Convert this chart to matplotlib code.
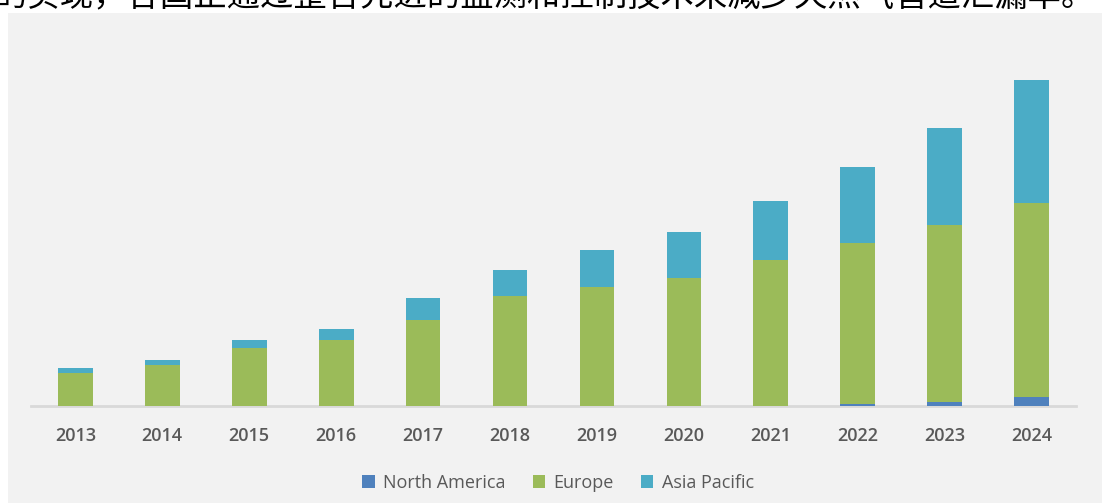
import numpy as np
import matplotlib.pyplot as plt
from matplotlib.patches import Rectangle, Patch

# Market size by region, stacked per year
years = ["2013", "2014", "2015", "2016", "2017", "2018",
         "2019", "2020", "2021", "2022", "2023", "2024"]
north_america = [0, 0, 0, 0, 0, 0, 0, 0, 0, 0.23, 0.40, 0.87]
europe = [3.33, 4.10, 5.83, 6.60, 8.63, 10.97, 11.90, 12.83, 14.57, 16.04, 17.73, 19.43]
asia_pacific = [0.47, 0.50, 0.77, 1.10, 2.17, 2.63, 3.73, 4.54, 5.90, 7.60, 9.64, 12.30]

series_names = ["North America", "Europe", "Asia Pacific"]
colors = ["#4F81BD", "#9BBB59", "#4BACC6"]

W, H = 1102, 503
fig = plt.figure(figsize=(W / 100, H / 100), dpi=100)
fig.patch.set_facecolor("white")

# grey panel behind the chart
fig.patches.append(Rectangle((8 / W, 0), 1 - 8 / W, 1 - 13 / H,
                             transform=fig.transFigure, facecolor="#F2F2F2",
                             edgecolor="none", zorder=-5))

# running text line above the chart (cut off at the top edge)
fig.text(1095 / W, 1 - 14 / H,
         "的实现，各国正通过整合先进的监测和控制技术来减少天然气管道泄漏率。",
         ha="right", va="bottom", fontsize=24, color="black",
         family=["Noto Sans CJK SC", "DejaVu Sans"])

ax = fig.add_axes([31 / W, (H - 406) / H, (1076 - 31) / W, 366 / H])
ax.set_facecolor("none")
ax.set_zorder(2)

x = np.arange(len(years))
width = 0.4
na = np.array(north_america)
eu = np.array(europe)
ap = np.array(asia_pacific)

ax.bar(x, na, width, color=colors[0], zorder=2)
ax.bar(x, eu, width, bottom=na, color=colors[1], zorder=2)
ax.bar(x, ap, width, bottom=na + eu, color=colors[2], zorder=2)

ax.set_xlim(-0.51, 11.51)
ax.set_ylim(0, 36.6)

for side in ["top", "right", "left"]:
    ax.spines[side].set_visible(False)
ax.spines["bottom"].set_color("#D9D9D9")
ax.spines["bottom"].set_linewidth(2)
ax.spines["bottom"].set_zorder(1)

ax.set_yticks([])
ax.set_xticks(x)
ax.set_xticklabels(years, fontsize=13, color="#595959", fontweight="semibold",
                   family="Open Sans")
ax.tick_params(axis="x", length=0, pad=15)

handles = [Patch(facecolor=c, edgecolor="none") for c in colors]
leg = fig.legend(handles, series_names, loc="center",
                 bbox_to_anchor=(558 / W, 1 - 483 / H), ncol=3, frameon=False,
                 handlelength=0.7, handleheight=0.7, handletextpad=0.45,
                 columnspacing=1.5,
                 prop={"family": "Open Sans", "size": 13})
for t in leg.get_texts():
    t.set_color("#595959")

fig.savefig("out.png", dpi=100, facecolor=fig.get_facecolor())
